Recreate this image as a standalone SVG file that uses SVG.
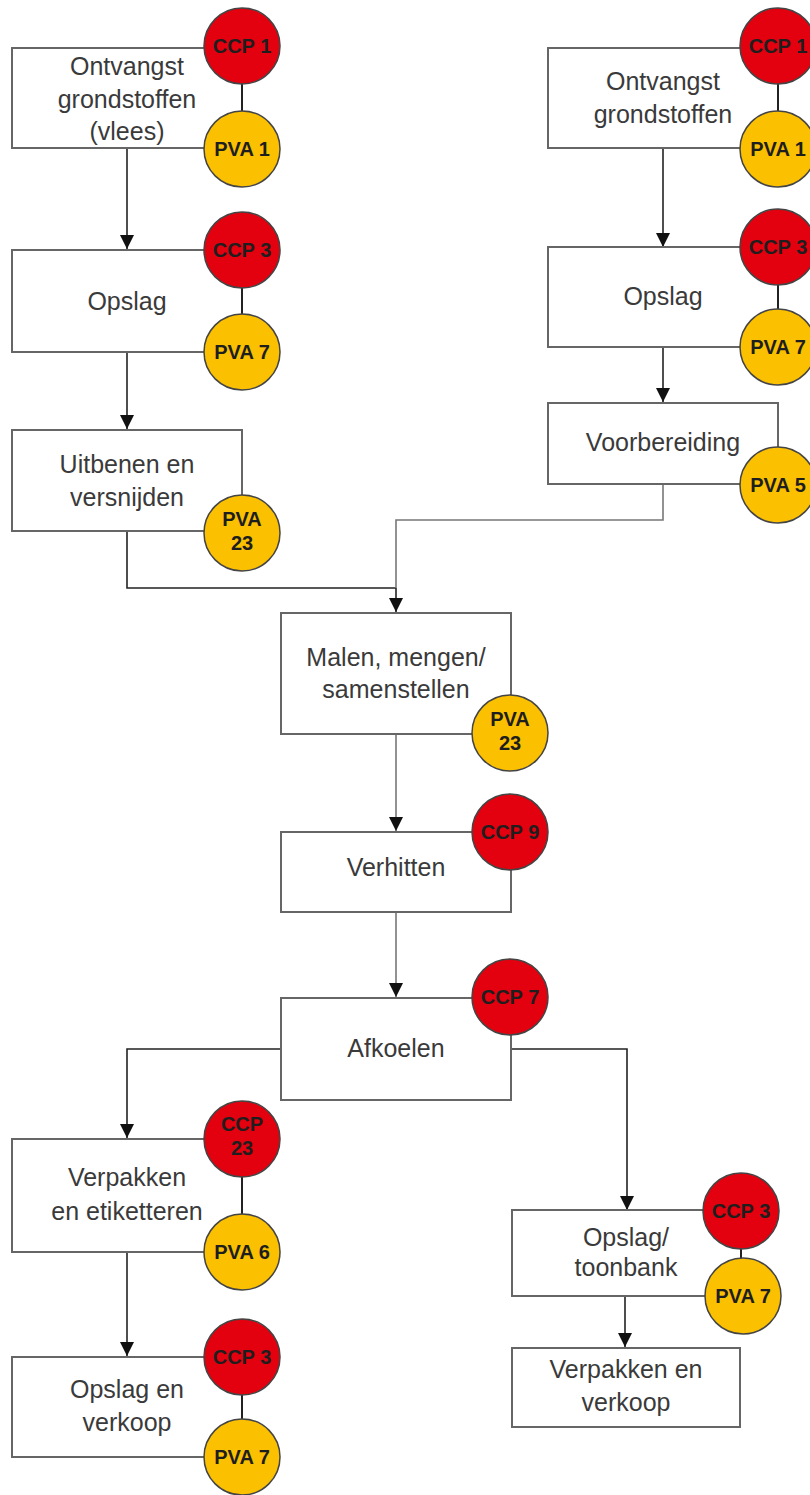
<svg xmlns="http://www.w3.org/2000/svg" width="810" height="1495" viewBox="0 0 810 1495">
  <style>
    .box { fill: #fff; stroke: #666; stroke-width: 2; }
    .lbl { font-family: "Liberation Sans", Arial, sans-serif; font-size: 25px; fill: #3a3a3a; text-anchor: middle; }
    .ccp { fill: #e3000f; stroke: #444; stroke-width: 1.5; }
    .pva { fill: #fbc000; stroke: #444; stroke-width: 1.5; }
    .ct { font-family: "Liberation Sans", Arial, sans-serif; font-size: 20px; font-weight: bold; fill: #1e1e1e; text-anchor: middle; }
    .link { stroke: #222; stroke-width: 2; fill: none; }
    .flow { stroke: #222; stroke-width: 1.6; fill: none; }
    .flow.grey { stroke: #777; }
  </style>
  <defs>
    <marker id="arrow" markerUnits="userSpaceOnUse" markerWidth="14" markerHeight="14" viewBox="0 0 14 14" refX="14" refY="7" orient="auto">
      <path d="M0,0 L14,7 L0,14 Z" fill="#111"/>
    </marker>
  </defs>

  <!-- flow lines between steps -->
  <g id="connectors">
    <path class="flow" d="M127,148 V249" marker-end="url(#arrow)"/>
    <path class="flow" d="M127,352 V429" marker-end="url(#arrow)"/>
    <path class="flow" d="M127,531 V588 H396"/>
    <path class="flow" d="M663,148 V247" marker-end="url(#arrow)"/>
    <path class="flow" d="M663,347 V402" marker-end="url(#arrow)"/>
    <path class="flow grey" d="M663,484 V520 H396 V588"/>
    <path class="flow" d="M396,588 V612" marker-end="url(#arrow)"/>
    <path class="flow grey" d="M396,734 V831" marker-end="url(#arrow)"/>
    <path class="flow grey" d="M396,912 V997" marker-end="url(#arrow)"/>
    <path class="flow" d="M281,1049 H127 V1138" marker-end="url(#arrow)"/>
    <path class="flow" d="M511,1049 H627 V1210" marker-end="url(#arrow)"/>
    <path class="flow" d="M127,1252 V1356" marker-end="url(#arrow)"/>
    <path class="flow" d="M625,1296 V1347" marker-end="url(#arrow)"/>
  </g>

  <!-- left column -->
  <g id="ontvangst-vlees">
    <rect class="box" x="12" y="48" width="230" height="100"/>
    <text class="lbl" x="127" y="75">Ontvangst</text>
    <text class="lbl" x="127" y="108">grondstoffen</text>
    <text class="lbl" x="127" y="140">(vlees)</text>
    <line class="link" x1="242" y1="80" x2="242" y2="115"/>
    <circle class="ccp" cx="242" cy="46" r="38"/>
    <text class="ct" x="242" y="53">CCP 1</text>
    <circle class="pva" cx="242" cy="149" r="38"/>
    <text class="ct" x="242" y="156">PVA 1</text>
  </g>

  <g id="opslag-links">
    <rect class="box" x="12" y="250" width="230" height="102"/>
    <text class="lbl" x="127" y="310">Opslag</text>
    <line class="link" x1="242" y1="285" x2="242" y2="318"/>
    <circle class="ccp" cx="242" cy="250" r="38"/>
    <text class="ct" x="242" y="257">CCP 3</text>
    <circle class="pva" cx="242" cy="352" r="38"/>
    <text class="ct" x="242" y="359">PVA 7</text>
  </g>

  <g id="uitbenen">
    <rect class="box" x="12" y="430" width="230" height="101"/>
    <text class="lbl" x="127" y="473">Uitbenen en</text>
    <text class="lbl" x="127" y="506">versnijden</text>
    <circle class="pva" cx="242" cy="533" r="38"/>
    <text class="ct" x="242" y="526">PVA</text>
    <text class="ct" x="242" y="550">23</text>
  </g>

  <!-- right column -->
  <g id="ontvangst">
    <rect class="box" x="548" y="48" width="230" height="100"/>
    <text class="lbl" x="663" y="90">Ontvangst</text>
    <text class="lbl" x="663" y="123">grondstoffen</text>
    <line class="link" x1="778" y1="80" x2="778" y2="115"/>
    <circle class="ccp" cx="778" cy="46" r="38"/>
    <text class="ct" x="778" y="53">CCP 1</text>
    <circle class="pva" cx="778" cy="149" r="38"/>
    <text class="ct" x="778" y="156">PVA 1</text>
  </g>

  <g id="opslag-rechts">
    <rect class="box" x="548" y="247" width="230" height="100"/>
    <text class="lbl" x="663" y="305">Opslag</text>
    <line class="link" x1="778" y1="282" x2="778" y2="313"/>
    <circle class="ccp" cx="778" cy="247" r="38"/>
    <text class="ct" x="778" y="254">CCP 3</text>
    <circle class="pva" cx="778" cy="347" r="38"/>
    <text class="ct" x="778" y="354">PVA 7</text>
  </g>

  <g id="voorbereiding">
    <rect class="box" x="548" y="403" width="230" height="81"/>
    <text class="lbl" x="663" y="451">Voorbereiding</text>
    <circle class="pva" cx="778" cy="485" r="38"/>
    <text class="ct" x="778" y="492">PVA 5</text>
  </g>

  <!-- central column -->
  <g id="malen">
    <rect class="box" x="281" y="613" width="230" height="121"/>
    <text class="lbl" x="396" y="666">Malen, mengen/</text>
    <text class="lbl" x="396" y="698">samenstellen</text>
    <circle class="pva" cx="510" cy="733" r="38"/>
    <text class="ct" x="510" y="726">PVA</text>
    <text class="ct" x="510" y="750">23</text>
  </g>

  <g id="verhitten">
    <rect class="box" x="281" y="832" width="230" height="80"/>
    <text class="lbl" x="396" y="876">Verhitten</text>
    <circle class="ccp" cx="510" cy="832" r="38"/>
    <text class="ct" x="510" y="839">CCP 9</text>
  </g>

  <g id="afkoelen">
    <rect class="box" x="281" y="998" width="230" height="102"/>
    <text class="lbl" x="396" y="1057">Afkoelen</text>
    <circle class="ccp" cx="510" cy="997" r="38"/>
    <text class="ct" x="510" y="1004">CCP 7</text>
  </g>

  <!-- lower left branch -->
  <g id="verpakken-etiketteren">
    <rect class="box" x="12" y="1139" width="230" height="113"/>
    <text class="lbl" x="127" y="1186">Verpakken</text>
    <text class="lbl" x="127" y="1220">en etiketteren</text>
    <line class="link" x1="242" y1="1175" x2="242" y2="1218"/>
    <circle class="ccp" cx="242" cy="1139" r="38"/>
    <text class="ct" x="242" y="1131">CCP</text>
    <text class="ct" x="242" y="1155">23</text>
    <circle class="pva" cx="242" cy="1252" r="38"/>
    <text class="ct" x="242" y="1259">PVA 6</text>
  </g>

  <g id="opslag-verkoop">
    <rect class="box" x="12" y="1357" width="230" height="100"/>
    <text class="lbl" x="127" y="1398">Opslag en</text>
    <text class="lbl" x="127" y="1431">verkoop</text>
    <line class="link" x1="242" y1="1390" x2="242" y2="1423"/>
    <circle class="ccp" cx="242" cy="1357" r="38"/>
    <text class="ct" x="242" y="1364">CCP 3</text>
    <circle class="pva" cx="242" cy="1457" r="38"/>
    <text class="ct" x="242" y="1464">PVA 7</text>
  </g>

  <!-- lower right branch -->
  <g id="opslag-toonbank">
    <rect class="box" x="512" y="1210" width="229" height="86"/>
    <text class="lbl" x="626" y="1246">Opslag/</text>
    <text class="lbl" x="626" y="1276">toonbank</text>
    <line class="link" x1="741" y1="1245" x2="741" y2="1262"/>
    <circle class="ccp" cx="741" cy="1211" r="38"/>
    <text class="ct" x="741" y="1218">CCP 3</text>
    <circle class="pva" cx="743" cy="1296" r="38"/>
    <text class="ct" x="743" y="1303">PVA 7</text>
  </g>

  <g id="verpakken-verkoop">
    <rect class="box" x="512" y="1348" width="228" height="79"/>
    <text class="lbl" x="626" y="1378">Verpakken en</text>
    <text class="lbl" x="626" y="1411">verkoop</text>
  </g>
</svg>
